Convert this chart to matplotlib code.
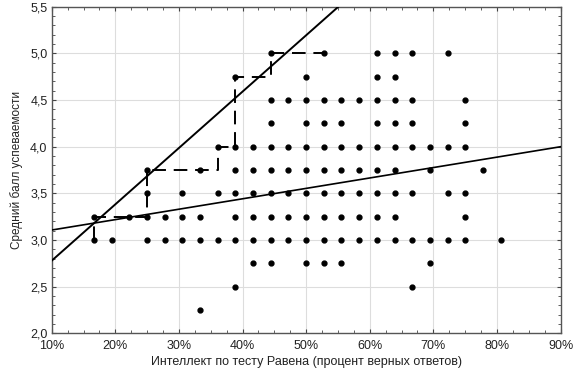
import matplotlib
matplotlib.use('Agg')
import numpy as np
import matplotlib.pyplot as plt
from matplotlib.ticker import MultipleLocator, FuncFormatter

# --- Data: correct answers (out of 36) for each grade level ---
n_items = 36
grade_levels = [2.25, 2.5, 2.75, 3.0, 3.25, 3.5, 3.75, 4.0, 4.25, 4.5, 4.75, 5.0]
answers_by_grade = [
    [12],
    [14, 24],
    [15, 16, 18, 19, 20, 25],
    [6, 7, 9, 10, 11, 12, 13, 14, 15, 16, 17, 18, 19, 20, 21, 22, 23, 24, 25, 26, 27, 29],
    [6, 8, 9, 10, 11, 12, 14, 15, 16, 17, 18, 19, 20, 21, 22, 23, 27],
    [9, 11, 13, 14, 15, 16, 17, 18, 19, 20, 21, 22, 23, 24, 26, 27],
    [9, 12, 14, 15, 16, 17, 18, 19, 20, 21, 22, 23, 25, 28],
    [13, 14, 15, 16, 17, 18, 19, 20, 21, 22, 23, 24, 25, 26, 27],
    [16, 18, 19, 20, 22, 23, 24, 27],
    [16, 17, 18, 19, 20, 21, 22, 23, 24, 27],
    [14, 18, 22, 23],
    [16, 19, 22, 23, 24, 26],
]

# upper envelope (dashed step line)
step_answers = [6, 6, 9, 9, 13, 13, 14, 14, 16, 16, 19]
step_grades = [3.0, 3.25, 3.25, 3.75, 3.75, 4.0, 4.0, 4.75, 4.75, 5.0, 5.0]

# two fitted lines: grade = a + b * percent
steep_a, steep_b = 2.174, 0.0604
flat_a, flat_b = 2.995, 0.01116

xs, ys = [], []
for g, answers in zip(grade_levels, answers_by_grade):
    for k in answers:
        xs.append(k / n_items * 100)
        ys.append(g)

fig = plt.figure(figsize=(5.77, 3.70), dpi=100)
ax = fig.add_axes([0.0896, 0.0992, 0.882, 0.8827])

ax.set_xlim(10, 90)
ax.set_ylim(2.0, 5.5)

line_x = np.array([10, 90])
ax.plot(line_x, steep_a + steep_b * line_x, color='black', lw=1.4, zorder=3)
ax.plot(line_x, flat_a + flat_b * line_x, color='black', lw=1.2, zorder=3)

step_x = [k / n_items * 100 for k in step_answers]
ax.plot(step_x, step_grades, color='black', lw=1.4, dashes=(7, 4), zorder=3)

ax.plot(xs, ys, 'o', color='black', markersize=3.5, zorder=4)

ax.xaxis.set_major_locator(MultipleLocator(10))
ax.xaxis.set_minor_locator(MultipleLocator(2.5))
ax.yaxis.set_major_locator(MultipleLocator(0.5))
ax.yaxis.set_minor_locator(MultipleLocator(0.1))
ax.xaxis.set_major_formatter(FuncFormatter(lambda v, p: '%d%%' % round(v)))
ax.yaxis.set_major_formatter(FuncFormatter(lambda v, p: ('%.1f' % v).replace('.', ',')))

ax.tick_params(which='both', direction='in', top=True, right=True, colors='#444444',
               labelcolor='#222222', labelsize=9)
ax.tick_params(which='major', length=3, width=0.8)
ax.tick_params(which='minor', length=2, width=0.6)
ax.tick_params(axis='x', pad=5)
ax.tick_params(axis='y', pad=3)

ax.grid(True, which='major', color='#dddddd', lw=0.8)
ax.set_axisbelow(True)
for s in ax.spines.values():
    s.set_color('#555555')
    s.set_linewidth(1.0)

ax.set_xlabel('Интеллект по тесту Равена (процент верных ответов)', fontsize=9,
              color='#222222', labelpad=3)
ax.set_ylabel('Средний балл успеваемости', fontsize=8.5, color='#222222', labelpad=5)

plt.rcParams['font.family'] = ['Liberation Sans', 'DejaVu Sans']
for t in ax.get_xticklabels() + ax.get_yticklabels() + [ax.xaxis.label, ax.yaxis.label]:
    t.set_family(['Liberation Sans', 'DejaVu Sans'])

fig.savefig('out.png', dpi=100)
